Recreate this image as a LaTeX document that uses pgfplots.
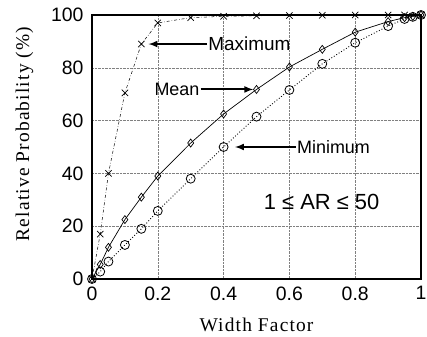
\documentclass[border=0pt]{standalone}
\usepackage{pgfplots}
\pgfplotsset{compat=1.18}
\usepackage{fontspec}
\setmainfont{Liberation Serif}
\newfontfamily\sans{Liberation Sans}
\newfontfamily\labfont[LetterSpace=6]{Liberation Serif}
\begin{document}
\begin{tikzpicture}
\begin{axis}[
  scale only axis,
  width=329bp, height=264bp,
  xmin=0, xmax=1, ymin=0, ymax=100,
  xtick={0,0.2,0.4,0.6,0.8,1}, ytick={0,20,40,60,80,100},
  xticklabels={0,0.2,0.4,0.6,0.8,1},
  /pgf/number format/assume math mode=true,
  ticklabel style={font=\sans\fontsize{19.5}{21}\selectfont},
  xticklabel style={yshift=-4bp},
  yticklabel style={xshift=-5bp},
  major tick length=0pt,
  grid=major,
  grid style={gray, densely dotted, line width=0.5pt},
  axis line style={line width=1.2pt},
  xlabel={Width Factor},
  ylabel={Relative Probability (\%)},
  label style={font=\labfont\fontsize{19.5}{21}\selectfont},
  xlabel style={yshift=-11bp},
  ylabel style={yshift=11bp, xshift=13bp},
  clip=false,
]
\addplot[black, line width=0.5pt, dash dot, mark=x, mark size=4.5pt, mark options={solid, line width=0.7pt}] coordinates {
(0,0) (0.025,17) (0.05,40) (0.1,70.5) (0.15,89) (0.2,97) (0.3,99) (0.4,99.5) (0.5,99.7) (0.6,99.8) (0.7,99.9) (0.8,100) (0.9,100) (0.95,100) (1,100)};
\addplot[black, line width=0.7pt, mark=diamond, mark size=4pt, mark options={solid, fill=white}] coordinates {
(0,0) (0.025,5.5) (0.05,12) (0.1,22.5) (0.15,31) (0.2,39) (0.3,51.5) (0.4,62.5) (0.5,71.8) (0.6,80.3) (0.7,87) (0.8,93.5) (0.9,97.5) (0.95,99) (0.975,99.5) (1,100)};
\addplot[black, line width=0.9pt, dotted, mark=o, mark size=4.5pt, mark options={solid, line width=0.8pt}] coordinates {
(0,0) (0.025,2.8) (0.05,6.6) (0.1,12.9) (0.15,19) (0.2,25.8) (0.3,38) (0.4,50) (0.5,61.5) (0.6,71.6) (0.7,81.5) (0.8,89.5) (0.9,95.8) (0.95,98.5) (0.975,99.3) (1,100)};
\draw[-latex, line width=2pt] (axis cs:0.35,89) -- (axis cs:0.172,89);
\node[anchor=west, font=\sans\fontsize{19}{21}\selectfont, inner sep=1pt] at (axis cs:0.35,89) {Maximum};
\draw[-latex, line width=2pt] (axis cs:0.33,71.8) -- (axis cs:0.49,71.8);
\node[anchor=east, font=\sans\fontsize{18}{20}\selectfont, inner sep=1pt] at (axis cs:0.33,71.8) {Mean};
\draw[-latex, line width=2pt] (axis cs:0.62,50) -- (axis cs:0.435,50);
\node[anchor=west, font=\sans\fontsize{18}{20}\selectfont, inner sep=1pt] at (axis cs:0.62,50) {Minimum};
\node[font=\sans\fontsize{22}{24}\selectfont] at (axis cs:0.698,29) {1 ≤ AR ≤ 50};
\coordinate (ll) at (rel axis cs:0,0);
\coordinate (ur) at (rel axis cs:1,1);
\end{axis}
\pgfresetboundingbox
\path ([shift={(-92bp,-58bp)}]ll) rectangle ([shift={(6bp,15bp)}]ur);
\end{tikzpicture}
\end{document}
